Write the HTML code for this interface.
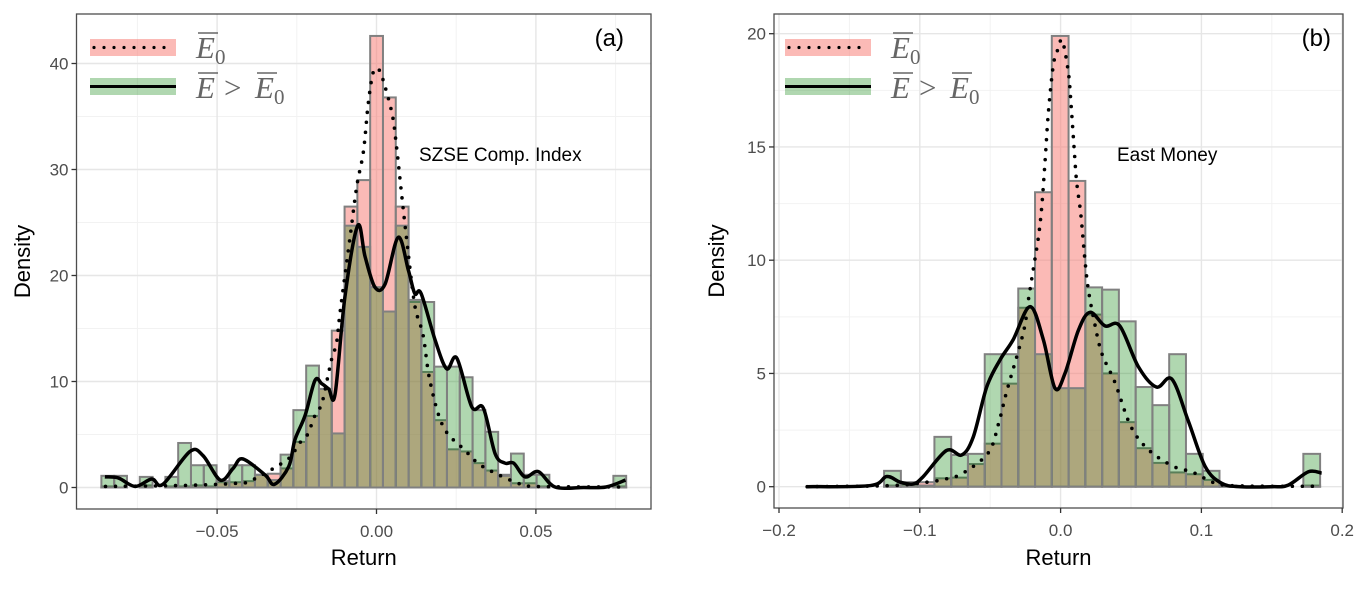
<!DOCTYPE html>
<html><head><meta charset="utf-8"><style>
html,body{margin:0;padding:0;background:#fff;}
svg{display:block;font-family:"Liberation Sans",sans-serif;}
</style></head><body>
<svg id="chart" width="1359" height="603" viewBox="0 0 1359 603"></svg>
<script>
// ===== Panel (a) data: SZSE Comp. Index =====
const binStartA = -0.0863;
const binWidthA = 0.004015;
const pinkA = [0.1,0,0,0.2,0,0.1,0.1,0.2,0.1,0.5,0.5,0.6,1.2,1.3,1.8,4.3,6.75,9.3,14.8,26.5,29,42.6,36.8,26.5,17.5,10.9,6.35,3.6,3.4,2.3,1.6,1.2,0.4,0.4,0.1,0,0,0,0,0,0.1];
const greenA = [1.1,1.1,0,1.0,0,1.0,4.2,2.1,2.1,0.6,2.1,2.1,1.2,0.7,3.1,7.3,11.5,9.3,5.1,24.7,22.7,18.9,16.6,24.7,17.7,17.5,11.4,11.4,10.4,7.3,5.25,1.1,3.2,1.2,1.2,0,0,0,0,0,1.1];
const solidAx = [-0.0852,-0.081,-0.0757,-0.0705,-0.067,-0.0585,-0.0544,-0.049,-0.045,-0.042,-0.035,-0.032,-0.0275,-0.0256,-0.0224,-0.0193,-0.0172,-0.015,-0.013,-0.0099,-0.0059,-0.0036,-0.0005,0.0027,0.0068,0.01,0.012,0.014,0.0184,0.022,0.0252,0.0299,0.0335,0.0372,0.0403,0.043,0.0466,0.0508,0.056,0.065,0.072,0.0781];
const solidAy = [1.0,0.9,0.1,0.8,0.3,3.4,3.0,0.7,1.8,2.7,1.2,0.3,2.0,4.5,6.8,10.1,9.8,9.3,8.8,18,24.7,21.8,18.9,19.2,23.6,20.5,18.3,18.3,13.9,11.2,12.2,7.6,7.5,3.2,2.3,2.3,1.0,1.5,0.05,0,0.05,0.7];
const dotAx = [-0.085,-0.06,-0.044,-0.039,-0.0277,-0.0247,-0.0214,-0.0198,-0.0172,-0.0151,-0.014,-0.0125,-0.0114,-0.0083,-0.0062,-0.0041,-0.0026,-0.001,0.0008,0.0025,0.005,0.0063,0.0079,0.0095,0.012,0.0146,0.0168,0.021,0.0278,0.0314,0.0356,0.0444,0.05,0.078];
const dotAy = [0.1,0.2,0.4,0.7,2.7,4.0,5.1,6.5,7.9,10.7,12.2,13.7,16.6,23.6,28.4,31.7,36.2,39.2,39.4,38,35.1,32.1,27.6,23.3,17.2,14.4,10,5.7,3.5,2.4,1.6,0.4,0.1,0.05];
const xTicksA = [-0.05,0,0.05];
const xTickLabelsA = ["\u22120.05","0.00","0.05"];
const xMinorA = [-0.075,-0.025,0.025,0.075];
const yTicksA = [0,10,20,30,40];
const yMinorA = [5,15,25,35];

// ===== Panel (b) data: East Money =====
const binStartB = -0.1849;
const binWidthB = 0.01191;
const pinkB = [0,0,0,0,0,0.05,0.1,0.2,0.37,0.4,1.0,1.9,4.55,7.9,13.0,19.9,13.5,7.6,5.0,2.85,1.7,1.05,0.63,0.55,0.3,0.05,0,0,0,0,0.05];
const greenB = [0,0,0,0,0,0.7,0.2,0.05,2.2,1.4,1.45,5.85,5.85,8.75,5.85,4.35,4.35,8.8,8.7,7.3,4.4,3.6,5.85,1.45,0.7,0.05,0,0,0,0,1.45];
const solidBx = [-0.18,-0.135,-0.1235,-0.114,-0.1046,-0.0975,-0.081,-0.0702,-0.062,-0.0525,-0.043,-0.0336,-0.0217,-0.0123,-0.004,0.0031,0.0126,0.0209,0.0315,0.042,0.0552,0.068,0.079,0.0907,0.1026,0.1144,0.128,0.15,0.1617,0.176,0.1854];
const solidBy = [0,0.05,0.45,0.2,0.12,0.45,1.6,1.4,2.2,4.4,5.6,6.5,7.95,6.5,4.35,5.0,6.9,7.7,7.1,7.1,5.3,4.4,4.75,2.9,0.9,0.15,0,0,0.07,0.66,0.6];
const dotBx = [-0.18,-0.12,-0.095,-0.081,-0.0693,-0.0513,-0.044,-0.0383,-0.0265,-0.023,-0.0194,-0.0158,-0.0134,-0.011,-0.0087,-0.0052,-0.002,0.0012,0.0055,0.0074,0.0097,0.0114,0.0143,0.0173,0.0197,0.0239,0.0292,0.0386,0.05,0.063,0.08,0.093,0.105,0.12,0.185];
const dotBy = [0,0.05,0.2,0.35,0.6,1.5,2.8,4.2,6.8,8.2,9.6,11,12.35,14.4,16.5,18.6,19.3,19.7,18.3,16.9,14.85,13.45,12.06,10,8.7,7.3,5.9,4.6,2.65,1.6,0.9,0.66,0.3,0.05,0.02];
const xTicksB = [-0.2,-0.1,0,0.1,0.2];
const xTickLabelsB = ["\u22120.2","\u22120.1","0.0","0.1","0.2"];
const xMinorB = [-0.15,-0.05,0.05,0.15];
const yTicksB = [0,5,10,15,20];
const yMinorB = [2.5,7.5,12.5,17.5];

const NS = "http://www.w3.org/2000/svg";
const svg = document.getElementById('chart');
function mk(tag, attrs, parent, text){
  const e = document.createElementNS(NS, tag);
  for (const k in attrs) e.setAttribute(k, attrs[k]);
  if (text !== undefined) e.textContent = text;
  (parent || svg).appendChild(e);
  return e;
}
function smoothPath(pts){
  let d = "M" + pts[0][0].toFixed(2) + "," + pts[0][1].toFixed(2);
  for (let i = 0; i < pts.length - 1; i++){
    const p0 = pts[Math.max(0,i-1)], p1 = pts[i], p2 = pts[i+1], p3 = pts[Math.min(pts.length-1,i+2)];
    const c1x = p1[0] + (p2[0]-p0[0])/6, c1y = p1[1] + (p2[1]-p0[1])/6;
    const c2x = p2[0] - (p3[0]-p1[0])/6, c2y = p2[1] - (p3[1]-p1[1])/6;
    d += " C" + c1x.toFixed(2)+","+c1y.toFixed(2)+" "+c2x.toFixed(2)+","+c2y.toFixed(2)+" "+p2[0].toFixed(2)+","+p2[1].toFixed(2);
  }
  return d;
}

function drawPanel(c){
  const g = mk('g', {});
  
  
  const X = v => c.x0 + c.kx * v;
  const Y = v => c.y0 - c.ky * v;
  const grid = mk('g', {}, g);
  
  
  c.xMinor.forEach(v => mk('line', {x1:X(v), x2:X(v), y1:c.top, y2:c.bottom, stroke:'#f2f2f2', 'stroke-width':1}, grid));
  c.yMinor.forEach(v => mk('line', {x1:c.left, x2:c.right, y1:Y(v), y2:Y(v), stroke:'#f2f2f2', 'stroke-width':1}, grid));
  c.xTicks.forEach(v => mk('line', {x1:X(v), x2:X(v), y1:c.top, y2:c.bottom, stroke:'#e6e6e6', 'stroke-width':1.4}, grid));
  c.yTicks.forEach(v => mk('line', {x1:c.left, x2:c.right, y1:Y(v), y2:Y(v), stroke:'#e6e6e6', 'stroke-width':1.4}, grid));
  [[c.pink, 'rgba(248,118,109,0.5)', 'e0-bar'], [c.green, 'rgba(0,125,0,0.31)', 'e-gt-e0-bar']].forEach(([arr, fill, nm]) => {
    arr.forEach((v, i) => {
      const x1 = X(c.binStart + i*c.binWidth), x2 = X(c.binStart + (i+1)*c.binWidth);
      const r = mk('rect', {x:x1, y:Y(v), width:x2-x1, height:Math.max(0, Y(0)-Y(v)), fill:fill, stroke:'#808080', 'stroke-width':2}, g);
      
      
    });
  });
  const dp = mk('path', {d: smoothPath(c.dotX.map((v,i)=>[X(v), Y(c.dotY[i])])), fill:'none', stroke:'#000', 'stroke-width':3.6, 'stroke-linecap':'round', 'stroke-dasharray':'0 10'}, g);
  
  
  const sp = mk('path', {d: smoothPath(c.solidX.map((v,i)=>[X(v), Y(c.solidY[i])])), fill:'none', stroke:'#000', 'stroke-width':3.5, 'stroke-linejoin':'round'}, g);
  
  
  const fr = mk('rect', {x:c.left, y:c.top, width:c.right-c.left, height:c.bottom-c.top, fill:'none', stroke:'#4d4d4d', 'stroke-width':1.3}, g);
  
  
  c.xTicks.forEach((v,i) => {
    mk('line', {x1:X(v), x2:X(v), y1:c.bottom, y2:c.bottom+5, stroke:'#333', 'stroke-width':1.3}, g);
    const t = mk('text', {x:X(v), y:c.bottom+28, 'text-anchor':'middle', 'font-size':17, fill:'#4d4d4d'}, g, c.xLabels[i]);
    
    
  });
  c.yTicks.forEach(v => {
    mk('line', {x1:c.left-5, x2:c.left, y1:Y(v), y2:Y(v), stroke:'#333', 'stroke-width':1.3}, g);
    const t = mk('text', {x:c.left-8, y:Y(v)+6, 'text-anchor':'end', 'font-size':17, fill:'#4d4d4d'}, g, String(v));
    
    
  });
  const xt = mk('text', {x:(c.left+c.right)/2, y:565, 'text-anchor':'middle', 'font-size':22, fill:'#000'}, g, 'Return');
  
  
  const yt = mk('text', {x:0, y:0, 'text-anchor':'middle', 'font-size':22, fill:'#000', transform:'translate(' + c.yTitleX + ',' + ((c.top+c.bottom)/2) + ') rotate(-90)'}, g, 'Density');
  
  
  const lab = mk('text', {x:c.tagX, y:46, 'text-anchor':'end', 'font-size':24, fill:'#000'}, g, c.tag);
  
  
  const ttl = mk('text', {x:c.titleX, y:161, 'font-size':19, fill:'#000'}, g, c.title);
  
  
  const lg = mk('g', {}, g);
  
  
  const lx = c.legX;
  mk('rect', {x:lx, y:39, width:86, height:17, fill:'rgba(248,118,109,0.5)'}, lg);
  mk('line', {x1:lx+4, x2:lx+84, y1:47.5, y2:47.5, stroke:'#000', 'stroke-width':3.2, 'stroke-linecap':'round', 'stroke-dasharray':'0 10'}, lg);
  mk('rect', {x:lx, y:78, width:86, height:17, fill:'rgba(0,125,0,0.31)'}, lg);
  mk('line', {x1:lx, x2:lx+86, y1:86.5, y2:86.5, stroke:'#000', 'stroke-width':3}, lg);
  const tx = lx + 106;
  const serif = '"Liberation Serif", serif';
  mk('text', {x:tx, y:58, 'font-size':31, 'font-style':'italic', 'font-family':serif, fill:'#666'}, lg, 'E');
  mk('line', {x1:tx+2, x2:tx+22, y1:33, y2:33, stroke:'#666', 'stroke-width':1.6}, lg);
  mk('text', {x:tx+19, y:64, 'font-size':21, 'font-family':serif, fill:'#666'}, lg, '0');
  mk('text', {x:tx, y:98, 'font-size':31, 'font-style':'italic', 'font-family':serif, fill:'#666'}, lg, 'E');
  mk('line', {x1:tx+2, x2:tx+22, y1:73, y2:73, stroke:'#666', 'stroke-width':1.6}, lg);
  mk('text', {x:tx+28, y:98, 'font-size':31, 'font-family':serif, fill:'#666'}, lg, '>');
  mk('text', {x:tx+59, y:98, 'font-size':31, 'font-style':'italic', 'font-family':serif, fill:'#666'}, lg, 'E');
  mk('line', {x1:tx+61, x2:tx+81, y1:73, y2:73, stroke:'#666', 'stroke-width':1.6}, lg);
  mk('text', {x:tx+78, y:104, 'font-size':21, 'font-family':serif, fill:'#666'}, lg, '0');
}

drawPanel({id:'panel-a', left:76.5, right:651, top:14, bottom:509, x0:376.5, kx:3188, y0:487.5, ky:10.6,
  binStart:binStartA, binWidth:binWidthA, pink:pinkA, green:greenA,
  solidX:solidAx, solidY:solidAy, dotX:dotAx, dotY:dotAy,
  xTicks:xTicksA, xLabels:xTickLabelsA, xMinor:xMinorA, yTicks:yTicksA, yMinor:yMinorA,
  yTitleX:30, tag:'(a)', tagX:624, title:'SZSE Comp. Index', titleX:419, legX:90});

drawPanel({id:'panel-b', left:774, right:1343, top:14, bottom:508, x0:1060.6, kx:1408, y0:486.7, ky:22.65,
  binStart:binStartB, binWidth:binWidthB, pink:pinkB, green:greenB,
  solidX:solidBx, solidY:solidBy, dotX:dotBx, dotY:dotBy,
  xTicks:xTicksB, xLabels:xTickLabelsB, xMinor:xMinorB, yTicks:yTicksB, yMinor:yMinorB,
  yTitleX:724, tag:'(b)', tagX:1331, title:'East Money', titleX:1117, legX:785});
</script>
</body></html>
